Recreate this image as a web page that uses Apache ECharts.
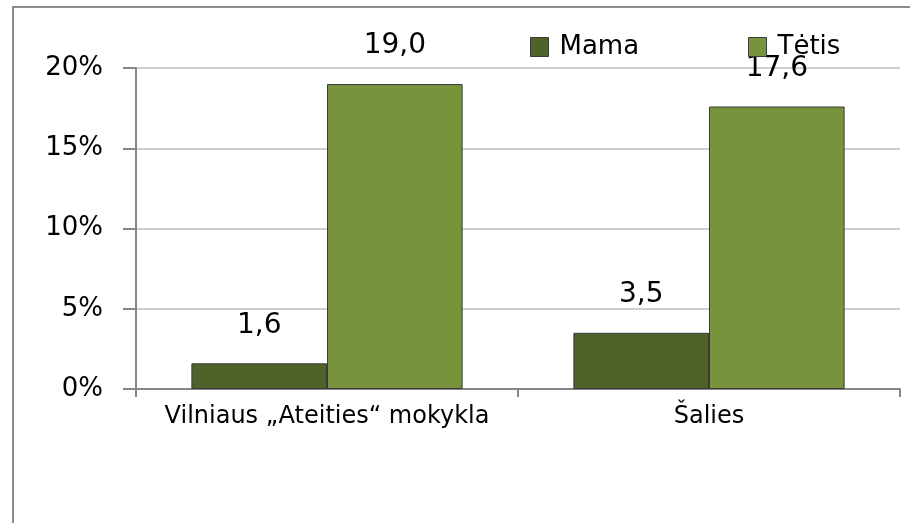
<!DOCTYPE html>
<html>
<head>
<meta charset="utf-8">
<script src="https://cdn.jsdelivr.net/npm/echarts@6/dist/echarts.min.js"></script>
<style>
  html, body { margin: 0; padding: 0; background: #fff; }
  #chart { width: 910px; height: 523px; }
</style>
</head>
<body>
<div id="chart"></div>
<script>
// duomenys
var categories = ['Vilniaus „Ateities“ mokykla', 'Šalies'];
var mama = [1.6, 3.5];
var tetis = [19.0, 17.6];
var yTicks = [0, 5, 10, 15, 20];

var font = '"DejaVu Sans", sans-serif';

function fmtLabel(p) {
    return p.value.toFixed(1).replace('.', ',');
}

function legendFor(name, left) {
    return {
        left: left,
        top: 29,
        icon: 'rect',
        itemWidth: 18,
        itemHeight: 19,
        itemStyle: { borderColor: '#3a3a3a', borderWidth: 1 },
        textStyle: { fontSize: 26, color: '#000', fontFamily: font, padding: [0, 0, 0, 6] },
        data: [name]
    };
}

var option = {
    animation: false,
    graphic: [{
        type: 'rect',
        shape: { x: 13, y: 7, width: 1000, height: 1000 },
        style: { fill: 'none', stroke: '#8c8c8c', lineWidth: 2 }
    }],
    legend: [legendFor('Mama', 525), legendFor('Tėtis', 743)],
    grid: { left: 136, top: 68, right: 10, bottom: 134 },
    xAxis: {
        type: 'category',
        data: categories,
        axisLine: { lineStyle: { color: '#868686', width: 2 } },
        axisTick: { show: true, length: 8, lineStyle: { color: '#868686', width: 2 } },
        axisLabel: { interval: 0, hideOverlap: false, fontSize: 24, color: '#000', fontFamily: font, margin: 16 }
    },
    yAxis: {
        type: 'value',
        min: yTicks[0],
        max: yTicks[yTicks.length - 1],
        interval: 5,
        axisLine: { show: true, lineStyle: { color: '#868686', width: 2 } },
        axisTick: { show: true, length: 13, lineStyle: { color: '#868686', width: 2 } },
        axisLabel: { fontSize: 26, color: '#000', fontFamily: font, margin: 33, formatter: '{value}%' },
        splitLine: { lineStyle: { color: '#cfcfcf', width: 2 } }
    },
    series: [
        {
            name: 'Mama',
            type: 'bar',
            data: mama,
            barGap: '0%',
            barCategoryGap: '29%',
            itemStyle: { color: '#4f6228', borderColor: '#3a3a3a', borderWidth: 1 },
            label: { show: true, position: 'top', distance: 24, fontSize: 28, color: '#000', fontFamily: font, formatter: fmtLabel }
        },
        {
            name: 'Tėtis',
            type: 'bar',
            data: tetis,
            itemStyle: { color: '#77933c', borderColor: '#3a3a3a', borderWidth: 1 },
            label: { show: true, position: 'top', distance: 24, fontSize: 28, color: '#000', fontFamily: font, formatter: fmtLabel }
        }
    ]
};

var myChart = echarts.init(document.getElementById('chart'));
myChart.setOption(option);
</script>
</body>
</html>
